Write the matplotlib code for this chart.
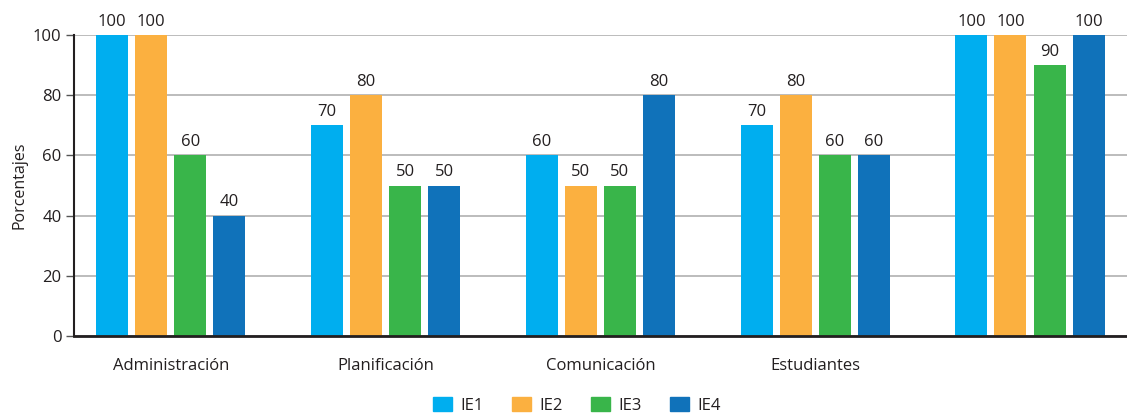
import numpy as np
import matplotlib.pyplot as plt
from matplotlib.patches import Patch

plt.rcParams['font.family'] = ['Open Sans', 'DejaVu Sans']

categories = ['Administración', 'Planificación', 'Comunicación', 'Estudiantes', '']
series_names = ['IE1', 'IE2', 'IE3', 'IE4']
ie1 = [100, 70, 60, 70, 100]
ie2 = [100, 80, 50, 80, 100]
ie3 = [60, 50, 50, 60, 90]
ie4 = [40, 50, 80, 60, 100]
yticks = [0, 20, 40, 60, 80, 100]

colors = ['#00AEEF', '#FBB040', '#39B54A', '#1072BA']
text_col = '#231F20'

fig = plt.figure(figsize=(11.27, 4.17), dpi=100)
ax = fig.add_axes([0.0657, 0.194, 0.934, 0.722])

x = np.arange(len(categories))
width = 0.149
pitch = 0.182
offsets = (np.arange(4) - 1.5) * pitch

for i, vals in enumerate([ie1, ie2, ie3, ie4]):
    bars = ax.bar(x + offsets[i], vals, width, color=colors[i], zorder=3)
    for b, v in zip(bars, vals):
        ax.text(b.get_x() + b.get_width() / 2, v + 1.8, str(v), ha='center', va='bottom',
                fontsize=12, color=text_col)

ax.set_xlim(-0.45, 4.45)
ax.set_ylim(0, 100)
ax.set_yticks(yticks)
ax.set_yticklabels([str(t) for t in yticks], fontsize=12, color=text_col)
ax.set_xticks(x)
ax.set_xticklabels(categories, fontsize=12, color=text_col)
ax.tick_params(axis='x', length=0, pad=16)
ax.tick_params(axis='y', length=6, width=1, color='#555555', pad=3)
ax.set_ylabel('Porcentajes', fontsize=11.5, color=text_col, labelpad=4)

ax.yaxis.grid(True, color='#b0b0b0', linewidth=1.2, zorder=0)
ax.set_axisbelow(True)
for s in ['top', 'right']:
    ax.spines[s].set_visible(False)
ax.spines['left'].set_linewidth(1.5)
ax.spines['left'].set_color('#231F20')
ax.spines['bottom'].set_linewidth(2)
ax.spines['bottom'].set_color('#231F20')
ax.spines['bottom'].set_zorder(4)

handles = [Patch(color=c, label=n) for c, n in zip(colors, series_names)]
fig.legend(handles=handles, loc='center', bbox_to_anchor=(0.512, 0.028), ncol=4,
           frameon=False, fontsize=12, handlelength=1.15, handleheight=0.9,
           columnspacing=1.7, handletextpad=0.5, labelcolor=text_col)

fig.savefig('out.png', dpi=100)
